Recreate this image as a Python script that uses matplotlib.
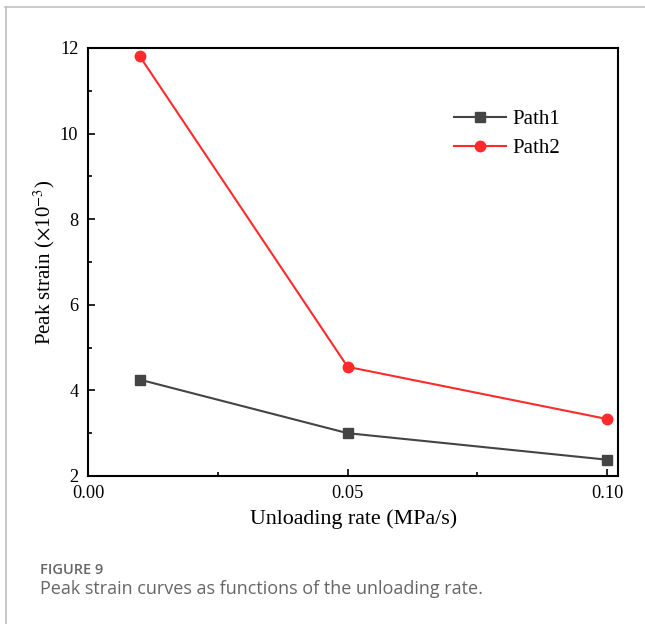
import matplotlib
matplotlib.use("Agg")
import matplotlib.pyplot as plt
from matplotlib.lines import Line2D
from matplotlib.ticker import MultipleLocator

# Peak strain data versus unloading rate
unloading_rate = [0.01, 0.05, 0.10]
path1_strain = [4.25, 3.00, 2.38]
path2_strain = [11.80, 4.55, 3.33]
series_labels = ["Path1", "Path2"]

serif = ["Liberation Serif", "DejaVu Serif"]
plt.rcParams["mathtext.fontset"] = "stix"

fig = plt.figure(figsize=(6.45, 6.24), dpi=100)
ax = fig.add_axes([0.1364, 0.2372, 0.822, 0.686])

ax.plot(unloading_rate, path1_strain, color="#444444", lw=1.5,
        marker="s", ms=7, label=series_labels[0])
ax.plot(unloading_rate, path2_strain, color="#ff2a2a", lw=1.5,
        marker="o", ms=7.5, label=series_labels[1])

ax.set_xlim(0.0, 0.1021)
ax.set_ylim(2, 12)
ax.xaxis.set_major_locator(MultipleLocator(0.05))
ax.xaxis.set_minor_locator(MultipleLocator(0.025))
ax.yaxis.set_major_locator(MultipleLocator(2))
ax.yaxis.set_minor_locator(MultipleLocator(1))
ax.tick_params(which="both", direction="in", top=False, right=False,
               width=1.2, labelsize=13.2)
ax.tick_params(which="major", length=5)
ax.tick_params(which="minor", length=3)
ax.tick_params(axis="y", which="major", pad=7)
ax.tick_params(axis="x", which="major", pad=6.5)
ax.set_xticklabels([f"{v:.2f}" for v in ax.get_xticks()])
for lab in ax.get_xticklabels() + ax.get_yticklabels():
    lab.set_family(serif)
for s in ax.spines.values():
    s.set_linewidth(1.5)

ax.set_xlabel("Unloading rate (MPa/s)", family=serif, fontsize=15.8,
              labelpad=5)
ax.set_ylabel(r"Peak strain ($\times$10$^{-3}$)", family=serif, fontsize=15,
              labelpad=2)

leg = ax.legend(loc="upper left", bbox_to_anchor=(0.655, 0.9),
                frameon=False, prop={"family": serif, "size": 15},
                handlelength=2.5, handletextpad=0.3, labelspacing=0.45)

# page frame lines
fig.add_artist(Line2D([5 / 645, 1], [1 - 7 / 624, 1 - 7 / 624],
                      color="#c0c0c0", lw=1.2))
fig.add_artist(Line2D([6 / 645, 6 / 645], [0, 1 - 7 / 624],
                      color="#c0c0c0", lw=1.2))

fig.text(40 / 645, 1 - 570 / 624, "FIGURE 9", family="Open Sans",
         fontsize=10.5, fontweight="semibold", color="#666666", va="center")
fig.text(40 / 645, 1 - 589 / 624,
         "Peak strain curves as functions of the unloading rate.",
         family="Open Sans", fontsize=13, color="#666666", va="center")

fig.savefig("out.png", dpi=100)
